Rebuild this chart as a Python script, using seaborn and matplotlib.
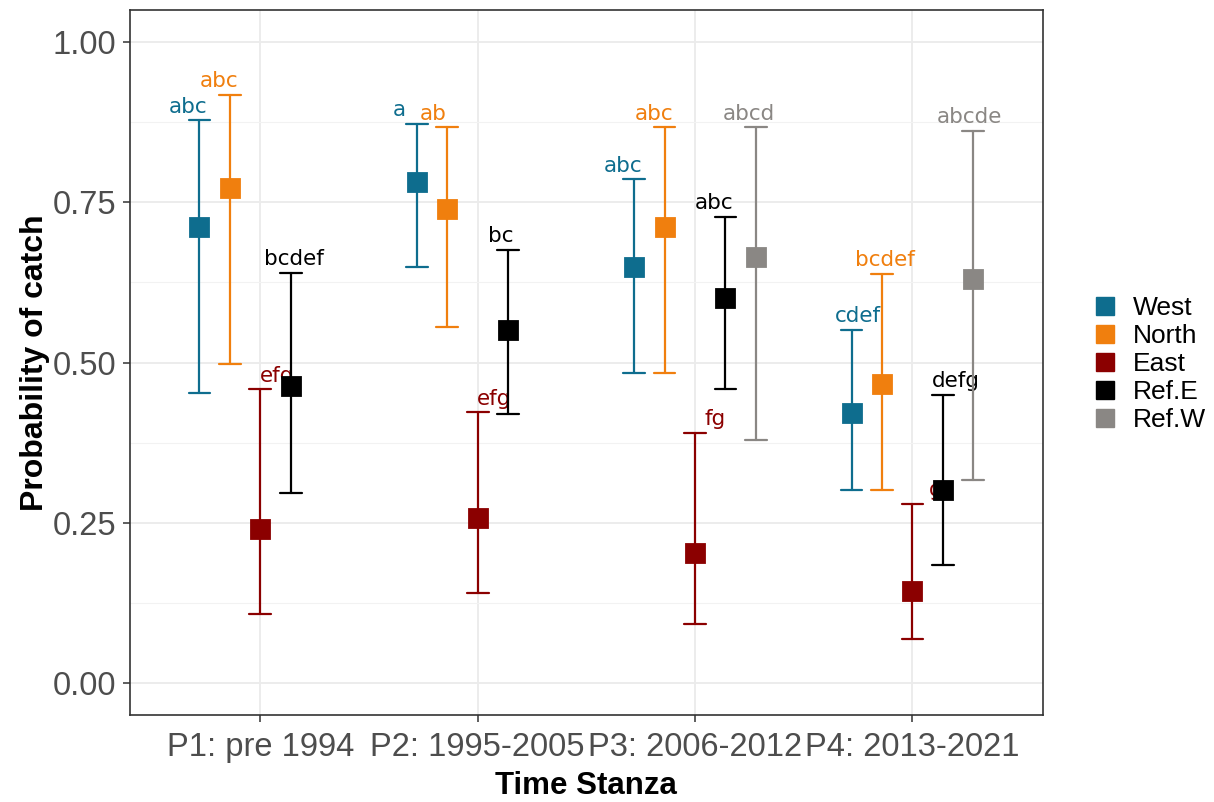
import numpy as np
import pandas as pd
import matplotlib
matplotlib.use("Agg")
import matplotlib.pyplot as plt
from matplotlib.lines import Line2D
import seaborn as sns

# ---- data -------------------------------------------------------------
periods = ["P1: pre 1994", "P2: 1995-2005", "P3: 2006-2012", "P4: 2013-2021"]
sites = ["West", "North", "East", "Ref.E", "Ref.W"]

west_est = [0.711, 0.782, 0.649, 0.421]
west_lo = [0.453, 0.649, 0.483, 0.301]
west_hi = [0.878, 0.872, 0.786, 0.551]

north_est = [0.772, 0.740, 0.711, 0.466]
north_lo = [0.498, 0.555, 0.483, 0.301]
north_hi = [0.918, 0.867, 0.867, 0.638]

east_est = [0.240, 0.257, 0.202, 0.144]
east_lo = [0.107, 0.141, 0.092, 0.069]
east_hi = [0.458, 0.422, 0.390, 0.279]

refe_est = [0.463, 0.551, 0.600, 0.301]
refe_lo = [0.296, 0.420, 0.458, 0.184]
refe_hi = [0.640, 0.676, 0.727, 0.450]

refw_est = [np.nan, np.nan, 0.665, 0.630]
refw_lo = [np.nan, np.nan, 0.379, 0.317]
refw_hi = [np.nan, np.nan, 0.867, 0.862]

west_grp = ["abc", "a", "abc", "cdef"]
north_grp = ["abc", "ab", "abc", "bcdef"]
east_grp = ["efg", "efg", "fg", "g"]
refe_grp = ["bcdef", "bc", "abc", "defg"]
refw_grp = ["", "", "abcd", "abcde"]

colors = {"West": "#0E6D8E", "North": "#F07F0E", "East": "#8B0000",
          "Ref.E": "#000000", "Ref.W": "#8A8784"}

series = {
    "West": (west_est, west_lo, west_hi, west_grp),
    "North": (north_est, north_lo, north_hi, north_grp),
    "East": (east_est, east_lo, east_hi, east_grp),
    "Ref.E": (refe_est, refe_lo, refe_hi, refe_grp),
    "Ref.W": (refw_est, refw_lo, refw_hi, refw_grp),
}

# long table: each estimate with its interval bounds, so that the median
# gives the estimate and the full percentile range gives the interval
rows = []
for site, (est, lo, hi, _) in series.items():
    for p, e, l, h in zip(periods, est, lo, hi):
        if np.isnan(e):
            continue
        for v in (l, e, h):
            rows.append({"Period": p, "Site": site, "prob": v})
df = pd.DataFrame(rows)

# ---- styling ------------------------------------------------------------
sns.set_style("white")
plt.rcParams["font.family"] = ["Liberation Sans", "DejaVu Sans"]

fig = plt.figure(figsize=(12.14, 8.02), dpi=100)
ax = fig.add_axes([0.107, 0.1085, 0.752, 0.879])

dodge = 0.56
sns.pointplot(
    data=df, x="Period", y="prob", hue="Site",
    order=periods, hue_order=sites, palette=colors,
    estimator="median", errorbar=("pi", 100),
    dodge=dodge, markers="s", linestyles="none",
    capsize=0.1, err_kws={"linewidth": 1.6},
    markersize=12.5, ax=ax, legend=False,
)

# significance letters, padded to a common a..g column layout
alphabet = "abcdefg"
letter_size = 15.5
space_pt = 0.318 * letter_size
n = len(sites)
for i, site in enumerate(sites):
    est, lo, hi, grp = series[site]
    off = -dodge / 2 + dodge / (n - 1) * i
    for j, g in enumerate(grp):
        if not g:
            continue
        lead = alphabet.index(g[0])
        trail = len(alphabet) - 1 - alphabet.index(g[-1])
        dx = (lead - trail) * space_pt / 2 + 2.0
        ax.annotate(g, xy=(j + off, hi[j]), xytext=(dx, 5.5),
                    textcoords="offset points", ha="center", va="baseline",
                    color=colors[site], fontsize=letter_size,
                    family="DejaVu Sans", zorder=1.9)

# ---- axes ---------------------------------------------------------------
ax.set_xlim(-0.6, 3.6)
ax.set_ylim(-0.05, 1.05)
ax.set_yticks([0, 0.25, 0.5, 0.75, 1.0])
ax.set_yticklabels(["0.00", "0.25", "0.50", "0.75", "1.00"])
ax.set_yticks([0.125, 0.375, 0.625, 0.875], minor=True)
ax.grid(True, which="major", color="#EBEBEB", linewidth=1.3)
ax.grid(True, which="minor", axis="y", color="#F2F2F2", linewidth=0.8)
ax.set_axisbelow(True)
for s in ax.spines.values():
    s.set_color("#333333")
    s.set_linewidth(1.2)
ax.tick_params(axis="both", which="major", direction="out", length=5,
               width=1.1, color="#333333", labelcolor="#4D4D4D",
               labelsize=23.5, left=True, bottom=True)
ax.tick_params(axis="x", which="major", pad=7)
ax.tick_params(axis="y", which="major", pad=5, labelsize=23.5)
ax.tick_params(axis="y", which="minor", length=0)

ax.set_xlabel("Time Stanza", fontsize=22.5, fontweight="bold", labelpad=6,
              color="black")
ax.set_ylabel("Probability of catch", fontsize=23, fontweight="bold",
              labelpad=2, color="black")

handles = [Line2D([], [], marker="s", linestyle="none", markersize=13.5,
                  markerfacecolor=colors[s], markeredgecolor=colors[s])
           for s in sites]
fig.legend(handles, sites, loc="center left", bbox_to_anchor=(0.891, 0.546),
           frameon=False, fontsize=19, handlelength=1.0, handletextpad=0.55,
           labelspacing=0.15, borderaxespad=0, labelcolor="black")

fig.savefig("out.png", dpi=100)
